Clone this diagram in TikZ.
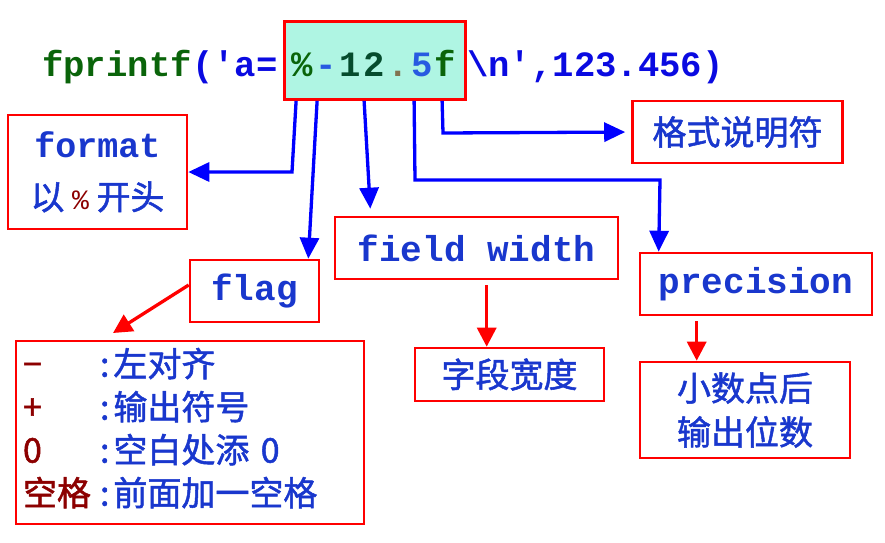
\documentclass[tikz,border=0pt]{standalone}
\usepackage{fontspec}
\setmainfont{Noto Sans CJK SC}[FakeBold=1.5]
\setmonofont{Liberation Mono}
\usetikzlibrary{arrows.meta,calc}
\definecolor{boxred}{RGB}{255,0,0}
\definecolor{arrowblue}{RGB}{0,0,255}
\definecolor{txtblue}{RGB}{25,55,205}
\definecolor{codeblue}{RGB}{10,10,225}
\definecolor{codegreen}{RGB}{10,100,10}
\definecolor{codeteal}{RGB}{5,75,45}
\definecolor{codedot}{RGB}{130,115,80}
\definecolor{codefive}{RGB}{40,90,225}
\definecolor{darkred}{RGB}{140,0,0}
\definecolor{specfill}{RGB}{175,245,227}
\begin{document}
\begin{tikzpicture}[x=1pt,y=-1pt,
  box/.style={draw=boxred, line width=2.6pt, inner sep=0pt, text=txtblue, align=center,
    font=\fontsize{34}{44}\selectfont},
  monotxt/.style={font=\ttfamily\bfseries\fontsize{36}{40}\selectfont},
  code/.style={inner sep=0pt, anchor=base west, font=\ttfamily\bfseries\fontsize{35.6}{40}\selectfont},
  barrow/.style={draw=arrowblue, line width=3.3pt, -{Triangle[length=21pt,width=19pt]}},
  rarrow/.style={draw=boxred, line width=3.3pt, -{Triangle[length=19pt,width=19pt]}}
]
\useasboundingbox (0,0) rectangle (885,542);

% code line
\node[draw=boxred, fill=specfill, line width=2.8pt, minimum width=181pt, minimum height=78pt, inner sep=0pt] (spec) at (375,60.5) {};
\node[code, text=codegreen] (c1) at (42,76) {fprintf};
\node[code, text=codeblue] (c2) at (c1.base east) {('a=};
\node[code, anchor=base] (c3) at (374,76) {\color{codegreen}\%\kern2.5pt\color{codefive}-\kern2.5pt\color{codeteal}1\kern2.5pt2\kern2.5pt\color{codedot}.\kern2.5pt\color{codefive}5\kern2.5pt\color{codegreen}f};
\node[code, text=codeblue] (c4) at (467,76) {\textbackslash n',123.456)};

% boxes
\node[box, minimum width=179pt, minimum height=114pt, font=\fontsize{34}{52}\selectfont] (format) at (97.5,172)
  {{\ttfamily\bfseries\fontsize{35}{52}\selectfont format}\\以 {\ttfamily\fontsize{28}{52}\selectfont\color{darkred}\%} 开头};
\node[box, minimum width=210pt, minimum height=62pt] (fmtspec) at (737.5,132) {格式说明符};
\node[box, monotxt, minimum width=283pt, minimum height=62pt] (field) at (476.5,248) {field width};
\node[box, monotxt, minimum width=129pt, minimum height=62pt] (flag) at (254.5,291) {flag};
\node[box, monotxt, minimum width=232pt, minimum height=62pt] (prec) at (756,284) {precision};
\node[box, minimum width=189pt, minimum height=53pt] (fieldcn) at (509.5,374.5) {字段宽度};
\node[box, minimum width=210pt, minimum height=96pt] (preccn) at (745,410) {小数点后\\输出位数};
\node[box, minimum width=348pt, minimum height=183pt, inner xsep=7pt, text width=334pt, align=left,
  font=\fontsize{34}{43}\selectfont] (list) at (190,432.5)
  {\begin{tabular}{@{}l@{\hspace{9pt}}l@{\hspace{4pt}}l@{}}
   \color{darkred}− & : & 左对齐\\
   \color{darkred}+ & : & 输出符号\\
   \color{darkred}0 & : & 空白处添 0\\
   \color{darkred}空格 & : & 前面加一空格
   \end{tabular}};

% blue connectors
\draw[barrow] ([xshift=13pt]spec.south west) -- (292,172) -- (format.east);
\draw[barrow] ([xshift=34pt]spec.south west) -- ([xshift=-12pt]flag.north east);
\draw[barrow, shorten >=7pt] ([xshift=81pt]spec.south west) -- ([xshift=37pt]field.north west);
\draw[barrow] ([xshift=131pt]spec.south west) -- (415,180) -- (660,180) -- ([xshift=20pt]prec.north west);
\draw[barrow, shorten >=6pt] ([xshift=159pt]spec.south west) -- (443,133) -- (fmtspec.west);

% red connectors
\draw[rarrow] ([yshift=6pt]flag.west) -- (113,333);
\draw[rarrow, shorten <=5pt] ([xshift=153pt]field.south west) -- ([xshift=73pt]fieldcn.north west);
\draw[rarrow, shorten <=5pt] ([xshift=58pt]prec.south west) -- ([xshift=58pt]preccn.north west);
\end{tikzpicture}
\end{document}
